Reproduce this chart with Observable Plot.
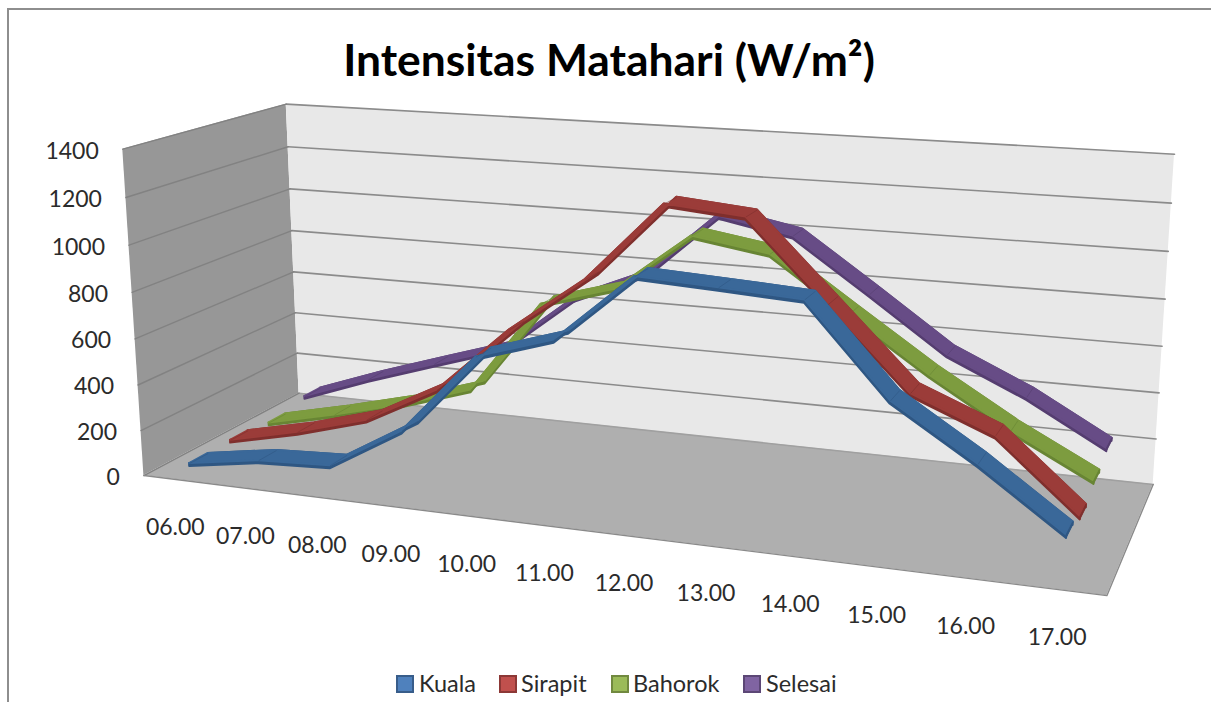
<!DOCTYPE html>
<html><head><meta charset="utf-8">
<script src="https://cdn.jsdelivr.net/npm/d3@7"></script>
<script src="https://cdn.jsdelivr.net/npm/@observablehq/plot@0.6"></script>
<style>
html,body{margin:0;padding:0;background:#fff;overflow:hidden;width:1211px;height:702px}
#frame{position:absolute;left:7px;top:8px;width:1400px;height:900px;border:2px solid #8e8e8e;box-sizing:border-box}
#chart{position:absolute;left:0;top:0}
#title{position:absolute;left:0;width:1218px;top:32px;text-align:center;font:700 44.4px Lato,sans-serif;color:#000}
.lg{position:absolute;top:670px;font:23.5px/26px Lato,sans-serif;color:#2b2b2b}
.sw{position:absolute;top:675px;width:14px;height:14px;border:2px solid}
</style></head><body>
<div id="frame"></div>
<div id="title">Intensitas Matahari (W/m²)</div>
<div id="chart"></div>
<div id="legend"></div>
<script>
const hours = ["06.00","07.00","08.00","09.00","10.00","11.00","12.00","13.00","14.00","15.00","16.00","17.00"];
const yTicks = [0,200,400,600,800,1000,1200,1400];
const seriesNames = ["Kuala","Sirapit","Bahorok","Selesai"];
const kuala   = [44,94,109,295,638,738,1019,1002,983,625,415,180];
const sirapit = [49,121,211,378,669,908,1240,1211,887,562,427,140];
const bahorok = [33,105,186,288,700,793,1045,994,770,548,350,177];
const selesai = [66,181,285,386,640,777,1067,1003,778,547,397,212];
const values = [kuala,sirapit,bahorok,selesai];

const corners = [
 [0,0,0,144,475],[1,0,0,1106,596],[1,0,1,1153,483],[0,0,1,298,393],
 [0,1,0,122,148],[0,1,1,286,104],[1,1,1,1174,154]];
function solve(A,b){const n=b.length;const M=A.map((r,i)=>[...r,b[i]]);
 for(let i=0;i<n;i++){let p=i;for(let k=i+1;k<n;k++)if(Math.abs(M[k][i])>Math.abs(M[p][i]))p=k;[M[i],M[p]]=[M[p],M[i]];
  for(let k=0;k<n;k++)if(k!==i){const f=M[k][i]/M[i][i];for(let j=i;j<=n;j++)M[k][j]-=f*M[i][j];}}
 return M.map((r,i)=>r[n]/r[i]);}
const rows=[],rhs=[];
for(const [u,v,w,X,Y] of corners){
 rows.push([u,v,w,1,0,0,0,0,-X*u,-X*v,-X*w]);rhs.push(X);
 rows.push([0,0,0,0,u,v,w,1,-Y*u,-Y*v,-Y*w]);rhs.push(Y);}
const ATA=d3.range(11).map(i=>d3.range(11).map(j=>d3.sum(rows,r=>r[i]*r[j])));
const ATb=d3.range(11).map(i=>d3.sum(rows,(r,k)=>r[i]*rhs[k]));
const P=solve(ATA,ATb);
function proj(t,val,w){const u=(t+0.5)/12,v=val/1400;
 const d=P[8]*u+P[9]*v+P[10]*w+1;
 return [(P[0]*u+P[1]*v+P[2]*w+P[3])/d,(P[4]*u+P[5]*v+P[6]*w+P[7])/d];}

const colors=[{f:"#3a6899",d:"#2f5783"},{f:"#9b3c39",d:"#7f2f2d"},{f:"#7d9c3f",d:"#688534"},{f:"#674c86",d:"#553d70"}];
const halfW=0.056, thick=13;
const quad=(a,b)=>({x1:a[0],y1:a[1],x2:b[0],y2:b[1]});
const area=(d,o)=>Plot.area(d,{x1:"x1",y1:"y1",x2:"x2",y2:"y2",...o});
const floor=[quad(proj(-.5,0,0),proj(-.5,0,1)),quad(proj(11.5,0,0),proj(11.5,0,1))];
const lwall=[quad(proj(-.5,0,0),proj(-.5,1400,0)),quad(proj(-.5,0,1),proj(-.5,1400,1))];
const bwall=[quad(proj(-.5,0,1),proj(-.5,1400,1)),quad(proj(11.5,0,1),proj(11.5,1400,1))];
const pts=a=>a.map(p=>({x:p[0],y:p[1]}));
const marks=[
 area(lwall,{fill:"#979797"}),area(bwall,{fill:"#e8e8e8"}),area(floor,{fill:"#afafaf"}),
 ...yTicks.map(v=>Plot.line(pts([proj(-.5,v,1),proj(11.5,v,1)]),{x:"x",y:"y",stroke:v?"#8b8b8b":"#a0a0a0",strokeWidth:1.6})),
 ...yTicks.map(v=>Plot.line(pts([proj(-.5,v,0),proj(-.5,v,1)]),{x:"x",y:"y",stroke:"#828282",strokeWidth:1.4})),
 Plot.line(pts([proj(-.5,0,0),proj(11.5,0,0),proj(11.5,0,1)]),{x:"x",y:"y",stroke:"#8a8a8a",strokeWidth:1.4}),
];
[3,2,1,0].forEach(j=>{
 const c=(j+.5)/4,w1=c-halfW,w2=c+halfW,vals=values[j],col=colors[j];
 const top=vals.map((v,t)=>quad(proj(t,v,w1),proj(t,v,w2)));
 const front=vals.map((v,t)=>quad(proj(t,v,w1),proj(t,v-thick,w1)));
 const back=vals.map((v,t)=>quad(proj(t,v,w2),proj(t,v-thick,w2)));
 marks.push(area(back,{fill:col.d,stroke:col.d,strokeWidth:2,strokeLinejoin:"round"}));
 marks.push(area(front,{fill:col.d,stroke:col.d,strokeWidth:2,strokeLinejoin:"round"}));
 marks.push(area(top,{fill:col.f,stroke:col.f,strokeWidth:2,strokeLinejoin:"round"}));
 marks.push(Plot.link(top,{x1:"x1",y1:"y1",x2:"x2",y2:"y2",stroke:col.d,strokeWidth:1,strokeOpacity:.6}));
 const l=vals.length-1;
 marks.push(area([quad(proj(l,vals[l],w1),proj(l,vals[l]-thick,w1)),quad(proj(l,vals[l],w2),proj(l,vals[l]-thick,w2))],{fill:col.d,stroke:col.d,strokeWidth:1}));
});
const hourLabels=hours.map((h,t)=>{const p=proj(t,0,0);return {x:p[0],y:p[1],h};});
const yLabels=yTicks.map(v=>{const p=proj(-.5,v,0);return {x:p[0],y:p[1],v:String(v)};});
marks.push(Plot.text(hourLabels,{x:"x",y:"y",text:"h",dx:-3,dy:48,fontSize:23,fontFamily:"Lato",fill:"#2b2b2b"}));
marks.push(Plot.text(yLabels,{x:"x",y:"y",text:"v",textAnchor:"end",dx:-24,dy:2,fontSize:23,fontFamily:"Lato",fill:"#2b2b2b"}));
document.getElementById("chart").append(Plot.plot({width:1211,height:702,margin:0,
 x:{domain:[0,1211],range:[0,1211],axis:null},y:{domain:[0,702],range:[0,702],axis:null},
 style:{background:"transparent"},marks}));
const lgX=[[396,419],[499,521],[611,633],[743,766]];
const lgC=[["#4f81bd","#385d8a"],["#c0504d","#8c3836"],["#9bbb59","#71893f"],["#8064a2","#5c4776"]];
document.getElementById("legend").innerHTML=seriesNames.map((n,i)=>`<div class="sw" style="left:${lgX[i][0]}px;background:${lgC[i][0]};border-color:${lgC[i][1]}"></div><div class="lg" style="left:${lgX[i][1]}px">${n}</div>`).join("");
</script></body></html>
